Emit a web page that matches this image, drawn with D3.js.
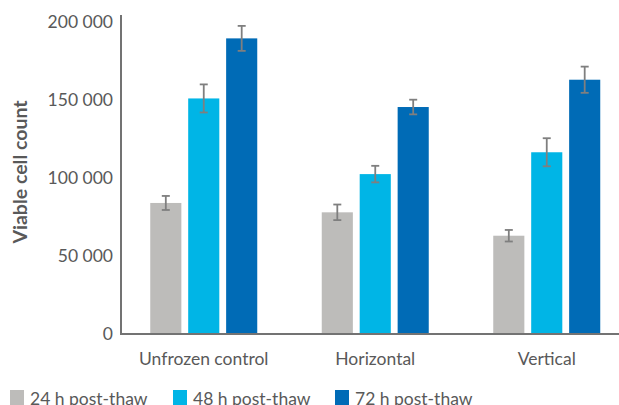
<!DOCTYPE html>
<html>
<head>
<meta charset="utf-8">
<script src="https://cdn.jsdelivr.net/npm/d3@7"></script>
<style>
  body { margin: 0; background: #fff; }
  svg { display: block; font-family: Lato, "Open Sans", sans-serif; }
</style>
</head>
<body>
<div id="chart"></div>
<script>
// chart data
var categories = ['Unfrozen control', 'Horizontal', 'Vertical'];
var seriesNames = ['24 h post-thaw', '48 h post-thaw', '72 h post-thaw'];
var values24 = [84000, 78000, 63000];
var values48 = [151000, 102500, 116500];
var values72 = [189500, 145500, 163000];
var errors24 = [4500, 5000, 3700];
var errors48 = [9000, 5300, 9000];
var errors72 = [8000, 4700, 8400];
var yTicks = [0, 50000, 100000, 150000, 200000];

var colors = ['#bdbcba', '#00b5e6', '#006bb6'];
var seriesValues = [values24, values48, values72];
var seriesErrors = [errors24, errors48, errors72];

var width = 619, height = 405;
var svg = d3.select('#chart').append('svg')
    .attr('width', width)
    .attr('height', height);

var x = d3.scaleBand()
    .domain(categories)
    .range([118, 632.5])
    .padding(0);

var xInner = d3.scaleBand()
    .domain(seriesNames)
    .range([-53.5, 53.5])
    .paddingInner(0.18)
    .paddingOuter(0);

var y = d3.scaleLinear()
    .domain([0, 200000])
    .range([334, 22]);

var locale = d3.formatLocale({decimal: '.', thousands: ' ', grouping: [3], currency: ['', '']});
var fmt = locale.format(',');

// y axis labels
var yAxis = d3.axisLeft(y)
    .tickValues(yTicks)
    .tickSize(0)
    .tickPadding(8)
    .tickFormat(fmt);

var gy = svg.append('g')
    .attr('transform', 'translate(121,0)')
    .call(yAxis);
gy.select('.domain').remove();
gy.selectAll('text')
    .attr('fill', '#595959')
    .style('font-size', '17.5px')
    .style('font-family', 'Lato, sans-serif');

// bars
var rows = [];
categories.forEach(function(c, i) {
    seriesNames.forEach(function(s, j) {
        rows.push({cat: c, series: s, idx: j, v: seriesValues[j][i], e: seriesErrors[j][i]});
    });
});

svg.selectAll('rect.bar').data(rows).enter().append('rect')
    .attr('class', 'bar')
    .attr('x', function(d) { return x(d.cat) + x.bandwidth() / 2 + xInner(d.series); })
    .attr('y', function(d) { return y(d.v); })
    .attr('width', xInner.bandwidth())
    .attr('height', function(d) { return y(0) - y(d.v); })
    .attr('fill', function(d) { return colors[d.idx]; });

// error bars
var err = svg.selectAll('g.err').data(rows).enter().append('g')
    .attr('class', 'err')
    .attr('stroke', '#7f7f7f')
    .attr('stroke-width', 1.8);

function cx(d) { return x(d.cat) + x.bandwidth() / 2 + xInner(d.series) + xInner.bandwidth() / 2; }

err.append('line')
    .attr('x1', cx).attr('x2', cx)
    .attr('y1', function(d) { return y(d.v + d.e); })
    .attr('y2', function(d) { return y(d.v - d.e); });
err.append('line')
    .attr('x1', function(d) { return cx(d) - 4; })
    .attr('x2', function(d) { return cx(d) + 4; })
    .attr('y1', function(d) { return y(d.v + d.e); })
    .attr('y2', function(d) { return y(d.v + d.e); });
err.append('line')
    .attr('x1', function(d) { return cx(d) - 4; })
    .attr('x2', function(d) { return cx(d) + 4; })
    .attr('y1', function(d) { return y(d.v - d.e); })
    .attr('y2', function(d) { return y(d.v - d.e); });

// axis lines
svg.append('line')
    .attr('x1', 121).attr('x2', 121)
    .attr('y1', 15).attr('y2', y(0) + 1)
    .attr('stroke', '#737373').attr('stroke-width', 2);
svg.append('line')
    .attr('x1', 120).attr('x2', width)
    .attr('y1', y(0)).attr('y2', y(0))
    .attr('stroke', '#737373').attr('stroke-width', 2);

// category labels
svg.selectAll('text.cat').data(categories).enter().append('text')
    .attr('class', 'cat')
    .attr('x', function(d) { return x(d) + x.bandwidth() / 2; })
    .attr('y', 365)
    .attr('text-anchor', 'middle')
    .attr('fill', '#595959')
    .style('font-size', '17.5px')
    .text(function(d) { return d; });

// y title
svg.append('text')
    .attr('transform', 'translate(27,172) rotate(-90)')
    .attr('text-anchor', 'middle')
    .attr('fill', '#595959')
    .style('font-size', '19.5px')
    .style('font-weight', 'bold')
    .text('Viable cell count');

// legend
var legendX = [10, 173, 335];
var leg = svg.selectAll('g.leg').data(seriesNames).enter().append('g')
    .attr('class', 'leg')
    .attr('transform', function(d, i) { return 'translate(' + legendX[i] + ',390)'; });
leg.append('rect')
    .attr('width', 14).attr('height', 15)
    .attr('fill', function(d, i) { return colors[i]; });
leg.append('text')
    .attr('x', 20)
    .attr('y', 15)
    .attr('fill', '#595959')
    .style('font-size', '17.5px')
    .text(function(d) { return d; });
</script>
</body>
</html>
